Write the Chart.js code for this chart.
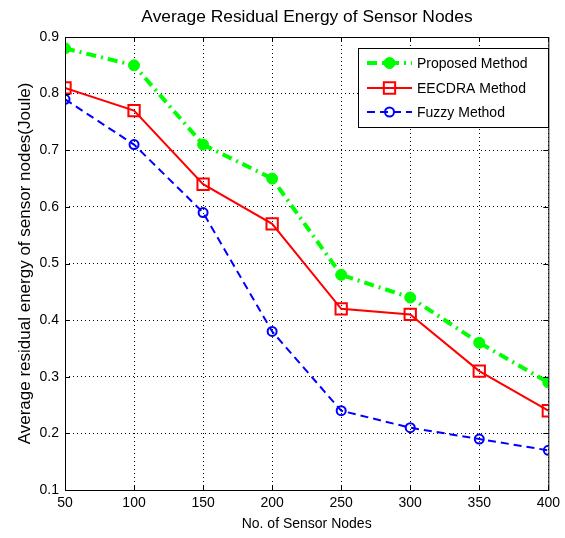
<!DOCTYPE html>
<html>
<head>
<meta charset="utf-8">
<script src="https://cdn.jsdelivr.net/npm/chart.js@4"></script>
<style>
  html, body { margin: 0; padding: 0; background: #fff; }
  #wrap { width: 565px; height: 538px; }
</style>
</head>
<body>
<div id="wrap"><canvas id="chart" width="565" height="538"></canvas></div>
<script>
var sensorNodes = [50, 100, 150, 200, 250, 300, 350, 400];
var proposedEnergy = [0.88, 0.85, 0.71, 0.65, 0.48, 0.44, 0.36, 0.29];
var eecdraEnergy = [0.81, 0.77, 0.64, 0.57, 0.42, 0.41, 0.31, 0.24];
var fuzzyEnergy = [0.79, 0.71, 0.59, 0.38, 0.24, 0.21, 0.19, 0.17];
var seriesNames = ["Proposed Method", "EECDRA Method", "Fuzzy Method"];
var chartTitle = "Average Residual Energy of Sensor Nodes";
var xTitle = "No. of Sensor Nodes";
var yTitle = "Average residual energy of sensor nodes(Joule)";

var fontFamily = "'Liberation Sans', Arial, sans-serif";

function toPoints(values){
  var pts = [];
  for (var i = 0; i < sensorNodes.length; i++) {
    pts.push({ x: sensorNodes[i], y: values[i] });
  }
  return pts;
}

// matlab style box, inward ticks, title and legend
var matlabAxes = {
  id: "matlabAxes",
  afterDraw: function(chart){
    var ctx = chart.ctx;
    var area = chart.chartArea;
    var xs = chart.scales.x;
    var ys = chart.scales.y;
    ctx.save();
    ctx.strokeStyle = "#000";
    ctx.lineWidth = 1;
    ctx.setLineDash([]);
    ctx.strokeRect(area.left + 0.5, area.top + 0.5, area.right - area.left, area.bottom - area.top);

    var tl = 5;
    ctx.beginPath();
    xs.ticks.forEach(function(t){
      var px = Math.round(xs.getPixelForValue(t.value)) + 0.5;
      ctx.moveTo(px, area.bottom); ctx.lineTo(px, area.bottom - tl);
      ctx.moveTo(px, area.top); ctx.lineTo(px, area.top + tl);
    });
    ys.ticks.forEach(function(t){
      var py = Math.round(ys.getPixelForValue(t.value)) + 0.5;
      ctx.moveTo(area.left, py); ctx.lineTo(area.left + tl, py);
      ctx.moveTo(area.right, py); ctx.lineTo(area.right - tl, py);
    });
    ctx.stroke();

    // title
    ctx.fillStyle = "#000";
    ctx.font = "17.4px " + fontFamily;
    ctx.textAlign = "center";
    ctx.textBaseline = "middle";
    ctx.fillText(chartTitle, 307, 17);

    // legend
    var lx = 358, ly = 48, lw = 190, lh = 79;
    ctx.fillStyle = "#fff";
    ctx.fillRect(lx, ly, lw, lh);
    ctx.strokeStyle = "#000";
    ctx.strokeRect(lx + 0.5, ly + 0.5, lw, lh);
    var rowY = [63, 88, 112];
    chart.data.datasets.forEach(function(ds, i){
      var y = rowY[i];
      ctx.save();
      ctx.strokeStyle = ds.borderColor;
      ctx.lineWidth = ds.borderWidth;
      ctx.setLineDash(ds.borderDash || []);
      ctx.beginPath();
      ctx.moveTo(367, y); ctx.lineTo(412, y);
      ctx.stroke();
      ctx.setLineDash([]);
      ctx.lineWidth = ds.pointBorderWidth;
      ctx.fillStyle = ds.pointBackgroundColor;
      ctx.strokeStyle = ds.pointBorderColor;
      Chart.helpers.drawPoint(ctx, { pointStyle: ds.pointStyle, radius: ds.pointRadius, rotation: 0, borderWidth: ds.pointBorderWidth }, 389.5, y);
      if (ds.pointBackgroundColor !== "rgba(0,0,0,0)") ctx.fill();
      ctx.restore();
      ctx.fillStyle = "#000";
      ctx.font = "14px " + fontFamily;
      ctx.textAlign = "left";
      ctx.textBaseline = "middle";
      ctx.fillText(ds.label, 417, y + 1);
    });
    ctx.restore();
  }
};

new Chart(document.getElementById("chart"), {
  type: "line",
  data: {
    datasets: [
      {
        label: seriesNames[0],
        data: toPoints(proposedEnergy),
        borderColor: "#00ff00",
        borderWidth: 4,
        borderDash: [10, 5, 2, 5],
        pointStyle: "circle",
        pointRadius: 5.5,
        pointBorderWidth: 1,
        pointBorderColor: "#00ff00",
        pointBackgroundColor: "#00ff00",
        fill: false,
        tension: 0
      },
      {
        label: seriesNames[1],
        data: toPoints(eecdraEnergy),
        borderColor: "#ff0000",
        borderWidth: 2,
        pointStyle: "rect",
        pointRadius: 8,
        pointBorderWidth: 2,
        pointBorderColor: "#ff0000",
        pointBackgroundColor: "rgba(0,0,0,0)",
        fill: false,
        tension: 0
      },
      {
        label: seriesNames[2],
        data: toPoints(fuzzyEnergy),
        borderColor: "#0000ff",
        borderWidth: 2,
        borderDash: [8, 5],
        pointStyle: "circle",
        pointRadius: 4.5,
        pointBorderWidth: 2,
        pointBorderColor: "#0000ff",
        pointBackgroundColor: "rgba(0,0,0,0)",
        fill: false,
        tension: 0
      }
    ]
  },
  options: {
    responsive: false,
    animation: false,
    layout: { padding: { left: 0, right: 16, top: 37, bottom: 0 } },
    plugins: {
      legend: { display: false },
      title: { display: false },
      tooltip: { enabled: false }
    },
    scales: {
      x: {
        type: "linear",
        min: 50,
        max: 400,
        afterFit: function(scale){ scale.height = 48; },
        afterBuildTicks: function(scale){
          scale.ticks = sensorNodes.map(function(v){ return { value: v }; });
        },
        ticks: {
          color: "#000",
          padding: 5,
          maxRotation: 0,
          font: { family: fontFamily, size: 14 }
        },
        grid: { color: "#000", lineWidth: 1, drawTicks: false },
        border: { display: false, dash: [1, 3] },
        title: {
          display: true,
          text: xTitle,
          color: "#000",
          font: { family: fontFamily, size: 14 },
          padding: { top: 0, bottom: 5 }
        }
      },
      y: {
        min: 0.1,
        max: 0.9,
        afterFit: function(scale){ scale.width = 65; },
        ticks: {
          stepSize: 0.1,
          color: "#000",
          padding: 6,
          font: { family: fontFamily, size: 14 },
          callback: function(v){ return Number(v.toFixed(1)).toString(); }
        },
        grid: { color: "#000", lineWidth: 1, drawTicks: false },
        border: { display: false, dash: [1, 3] },
        title: {
          display: true,
          text: yTitle,
          color: "#000",
          font: { family: fontFamily, size: 17 },
          padding: { top: 15, bottom: 0 }
        }
      }
    }
  },
  plugins: [matlabAxes]
});
</script>
</body>
</html>
